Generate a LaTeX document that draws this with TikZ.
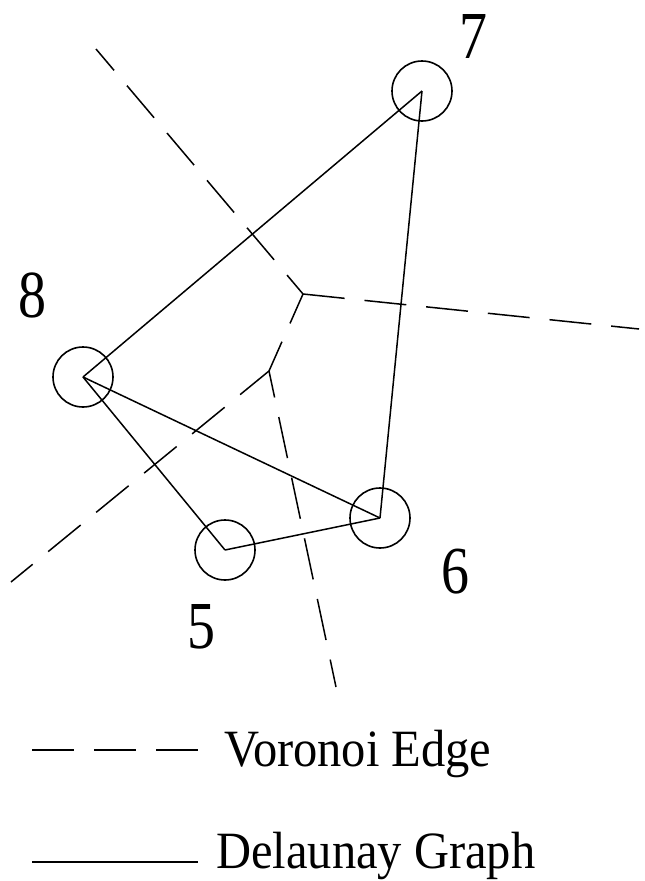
\documentclass[tikz,border=0pt]{standalone}
\usepackage{graphicx}
\usepackage{fontspec}
\setmainfont{Liberation Serif}
\usetikzlibrary{positioning}

\tikzset{
  site/.style={circle, draw, line width=1.6pt, minimum size=60pt, inner sep=0pt},
  delaunay/.style={line width=1.5pt},
  voronoi/.style={line width=1.5pt, dash pattern=on 42pt off 20pt, dash phase=14pt},
  numlabel/.style={anchor=base, inner sep=0pt, font=\fontsize{56}{56}\selectfont},
  legendtext/.style={anchor=base west, inner sep=0pt, font=\fontsize{48.5}{48.5}\selectfont}
}
\newcommand{\tallnum}[1]{\scalebox{1}[1.2]{#1}}

\begin{document}
\begin{tikzpicture}[x=1pt, y=-1pt]
  \useasboundingbox (0,0) rectangle (645,881);

  % sites of the Delaunay graph
  \node[site] (s5) at (225,550) {};
  \node[site] (s6) at (380,518) {};
  \node[site] (s7) at (422,91) {};
  \node[site] (s8) at (83,377) {};

  \node[numlabel] (l5) at (201,648) {\tallnum{5}};
  \node[numlabel] (l6) at (455,593) {\tallnum{6}};
  \node[numlabel] (l7) at (473,58) {\tallnum{7}};
  \node[numlabel] (l8) at (32,317) {\tallnum{8}};

  % Delaunay edges
  \draw[delaunay] (s8.center) -- (s7.center);
  \draw[delaunay] (s7.center) -- (s6.center);
  \draw[delaunay] (s8.center) -- (s6.center);
  \draw[delaunay] (s8.center) -- (s5.center);
  \draw[delaunay] (s5.center) -- (s6.center);

  % Voronoi vertices and loose ends
  \coordinate (v1) at (303,294);
  \coordinate (v2) at (269,371);
  \coordinate (e1) at (96,49);
  \coordinate (e2) at (639,329);
  \coordinate (e3) at (11,582);
  \coordinate (e4) at (336,687);

  \draw[voronoi] (e1) -- (v1);
  \draw[voronoi] (e2) -- (v1);
  \draw[voronoi] (e3) -- (v2);
  \draw[voronoi] (e4) -- (v2);
  \draw[voronoi, dash phase=10pt] (v2) -- (v1);

  % legend
  \coordinate (lv1) at (32,750);
  \coordinate (lv2) at (198,750);
  \coordinate (ld1) at (32,862);
  \coordinate (ld2) at (198,862);
  \draw[voronoi, dash phase=0pt] (lv1) -- (lv2);
  \draw[delaunay] (ld1) -- (ld2);
  \node[legendtext] (tv) at (224,766) {\scalebox{1}[1.08]{Voronoi Edge}};
  \node[legendtext] (td) at (216,868) {\scalebox{1}[1.08]{Delaunay Graph}};
\end{tikzpicture}
\end{document}
